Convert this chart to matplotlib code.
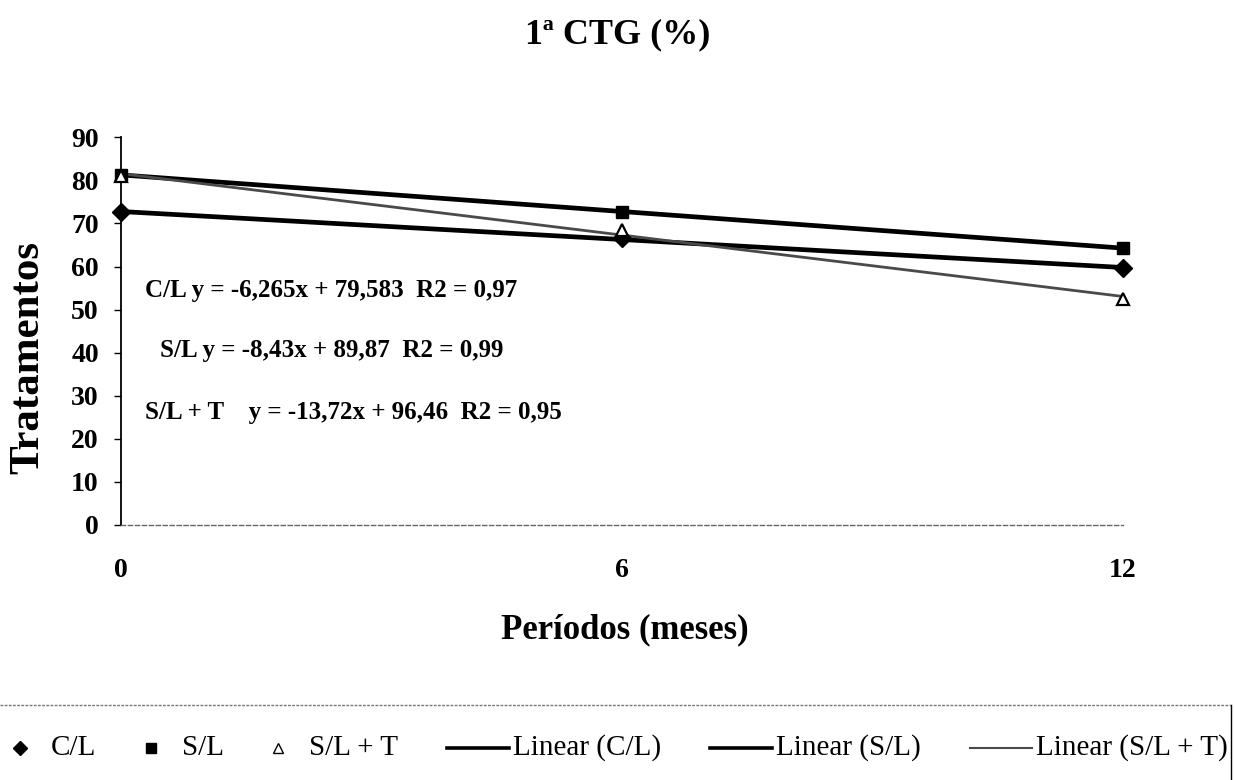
import numpy as np
import matplotlib.pyplot as plt
from matplotlib.lines import Line2D

plt.rcParams['font.family'] = ['Liberation Serif', 'DejaVu Serif']

# data
meses = [0, 6, 12]
cl = [72.6, 66.6, 59.6]
sl = [81.3, 72.7, 64.3]
slt = [81.0, 68.4, 52.5]

series_names = ["C/L", "S/L", "S/L + T"]
equations = [
    "C/L y = -6,265x + 79,583  R2 = 0,97",
    "S/L y = -8,43x + 89,87  R2 = 0,99",
    "S/L + T    y = -13,72x + 96,46  R2 = 0,95",
]
eq_pos = [(0.29, 54.5), (0.47, 40.6), (0.29, 26.0)]

W, H = 1235, 780
fig = plt.figure(figsize=(W / 100, H / 100), dpi=100)
ax = fig.add_axes([0.098, 0.327, 0.811, 0.497])

# trend lines (linear fits)
x = np.array(meses)
fits = [np.polyfit(x, y, 1) for y in (cl, sl, slt)]
xx = np.array([0, 12])
ax.plot(xx, np.polyval(fits[0], xx), color="black", lw=3.4, solid_capstyle="butt")
ax.plot(xx, np.polyval(fits[1], xx), color="black", lw=3.4, solid_capstyle="butt")
ax.plot(xx, np.polyval(fits[2], xx), color="#4a4a4a", lw=2.0, solid_capstyle="butt")

# points
ax.plot(meses, cl, "D", color="black", ms=9, clip_on=False, zorder=5)
ax.plot(meses, sl, "s", color="black", ms=9, clip_on=False, zorder=5)
ax.plot(meses, slt, "^", mfc="white", mec="black", mew=1.6, ms=9, clip_on=False, zorder=6)

for txt, (px, py) in zip(equations, eq_pos):
    ax.text(px, py, txt, fontsize=18, fontweight="bold", va="center", ha="left")

ax.set_xlim(0, 12)
ax.set_ylim(0, 90)
ax.set_xticks(meses)
ax.set_yticks(range(0, 91, 10))
ax.tick_params(axis="x", length=0, pad=24, labelsize=20)
ax.tick_params(axis="y", length=5, width=1, direction="out", pad=11, labelsize=20)
for lab in ax.get_xticklabels() + ax.get_yticklabels():
    lab.set_fontweight("bold")

ax.spines["top"].set_visible(False)
ax.spines["right"].set_visible(False)
ax.spines["left"].set_linewidth(1.3)
ax.spines["bottom"].set_linestyle((0, (3, 2)))
ax.spines["bottom"].set_color("#666666")
ax.spines["bottom"].set_linewidth(1.0)

fig.text(0.5, 1 - 35 / H, "1ª CTG (%)", fontsize=26, fontweight="bold",
         ha="center", va="center")
fig.text(625 / W, 1 - 630 / H, "Períodos (meses)", fontsize=25,
         fontweight="bold", ha="center", va="center")
fig.text(28 / W, 1 - 358 / H, "Tratamentos", fontsize=31,
         fontweight="bold", ha="center", va="center", rotation=90)

# legend, laid out by hand so it spans the full width like the original
leg_y = 1 - 748 / H
leg_fs = 21
renderer = fig.canvas.get_renderer()
labels = series_names + ["Linear (%s)" % n for n in series_names]
texts = [fig.text(0, leg_y, lab, fontsize=leg_fs, ha="left", va="center") for lab in labels]
widths = [t.get_window_extent(renderer).width for t in texts]

mark_w, mark_pad = 10, 26      # marker glyph width, gap marker -> text
line_w, line_pad = 62, 4       # legend line length, gap line -> text
x_start, x_end = 15, 1228
fixed = sum(widths) + 3 * (mark_w + mark_pad) + 3 * (line_w + line_pad)
gap = (x_end - x_start - fixed) / 5

handles = [("D", {"color": "black"}), ("s", {"color": "black"}),
           ("^", {"mfc": "white", "mec": "black"}),
           ("#000000", 2.6), ("#000000", 2.6), ("#4a4a4a", 1.5)]
cur = x_start
for i, (t, w) in enumerate(zip(texts, widths)):
    if i < 3:
        mk, kw = handles[i]
        fig.add_artist(Line2D([(cur + mark_w / 2) / W], [leg_y], ls="none", marker=mk,
                              ms=7, transform=fig.transFigure, **kw))
        cur += mark_w + mark_pad
    else:
        col, lw = handles[i]
        fig.add_artist(Line2D([cur / W, (cur + line_w) / W], [leg_y, leg_y], color=col,
                              lw=lw, transform=fig.transFigure))
        cur += line_w + line_pad
    t.set_x(cur / W)
    cur += w + gap

# legend frame (top and right edges)
fig.add_artist(Line2D([0, 0.997], [1 - 705 / H] * 2, color="#777777", lw=1,
                      ls=(0, (2, 1)), transform=fig.transFigure))
fig.add_artist(Line2D([0.997, 0.997], [0, 1 - 705 / H], color="black", lw=1,
                      transform=fig.transFigure))

fig.savefig("out.png", dpi=100)
